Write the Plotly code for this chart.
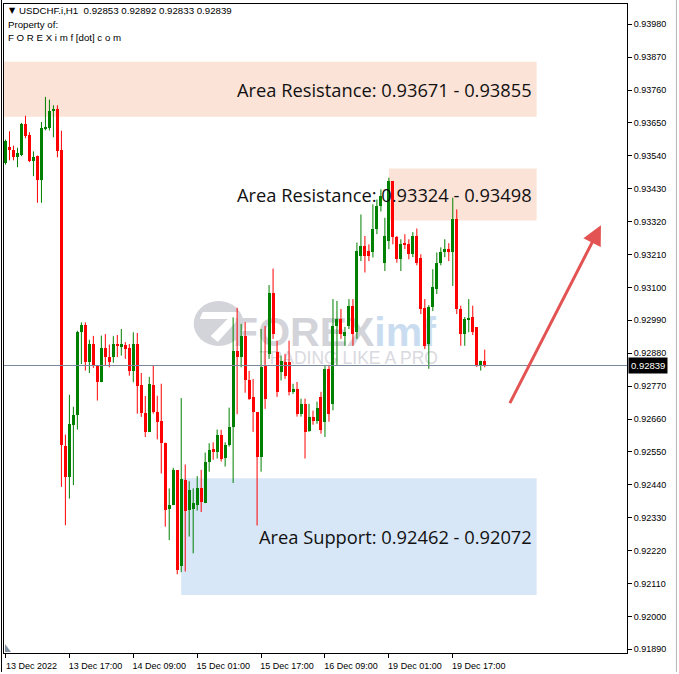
import plotly.graph_objects as go

# ---------------- data ----------------
symbol_header = "USDCHF.i,H1  0.92853 0.92892 0.92833 0.92839"
tick_index = [0, 16, 32, 48, 64, 80, 96, 112]
tick_text = ["13 Dec 2022", "13 Dec 17:00", "14 Dec 09:00", "15 Dec 01:00",
             "15 Dec 17:00", "16 Dec 09:00", "19 Dec 01:00", "19 Dec 17:00"]
price_ticks = [0.91890, 0.92000, 0.92110, 0.92220, 0.92330, 0.92440, 0.92550,
               0.92660, 0.92770, 0.92880, 0.92990, 0.93100, 0.93210, 0.93320,
               0.93430, 0.93540, 0.93650, 0.93760, 0.93870, 0.93980]

opens = [0.93517, 0.93570, 0.93561, 0.93535, 0.93544, 0.93648, 0.93611, 0.93522, 0.93541, 0.93459,
         0.93630, 0.93633, 0.93689, 0.93698, 0.93558, 0.92570, 0.92467, 0.92641, 0.92672, 0.92950,
         0.92974, 0.92852, 0.92911, 0.92841, 0.92783, 0.92897, 0.92869, 0.92867, 0.92911, 0.92900,
         0.92908, 0.92897, 0.92822, 0.92911, 0.92774, 0.92681, 0.92617, 0.92774, 0.92685, 0.92655,
         0.92581, 0.92359, 0.92372, 0.92489, 0.92167, 0.92455, 0.92355, 0.92359, 0.92374, 0.92428,
         0.92379, 0.92517, 0.92559, 0.92550, 0.92605, 0.92530, 0.92573, 0.92633, 0.92889, 0.92867,
         0.92938, 0.92791, 0.92733, 0.92683, 0.92533, 0.92838, 0.92878, 0.93083, 0.92884, 0.92817,
         0.92851, 0.92852, 0.92752, 0.92761, 0.92678, 0.92711, 0.92619, 0.92668, 0.92655, 0.92734,
         0.92650, 0.92828, 0.92711, 0.92972, 0.92994, 0.92937, 0.92972, 0.93039, 0.92950, 0.93205,
         0.93239, 0.93222, 0.93217, 0.93294, 0.93372, 0.93183, 0.93255, 0.93455, 0.93267, 0.93194,
         0.93248, 0.93244, 0.93211, 0.93272, 0.93200, 0.93030, 0.92911, 0.93033, 0.93094, 0.93183,
         0.93217, 0.93228, 0.93217, 0.93328, 0.93028, 0.92944, 0.92992, 0.93000, 0.92967, 0.92839,
         0.92853]
highs = [0.93594, 0.93622, 0.93574, 0.93567, 0.93650, 0.93674, 0.93619, 0.93555, 0.93541, 0.93653,
         0.93737, 0.93728, 0.93709, 0.93709, 0.93624, 0.92608, 0.92741, 0.92701, 0.92955, 0.92983,
         0.92983, 0.92925, 0.92938, 0.92841, 0.92939, 0.92944, 0.92909, 0.92937, 0.92941, 0.92961,
         0.92917, 0.92911, 0.92950, 0.92948, 0.92814, 0.92737, 0.92801, 0.92839, 0.92738, 0.92778,
         0.92581, 0.92428, 0.92497, 0.92489, 0.92730, 0.92508, 0.92452, 0.92428, 0.92469, 0.92490,
         0.92548, 0.92579, 0.92582, 0.92625, 0.92624, 0.92582, 0.92698, 0.93000, 0.93032, 0.92978,
         0.92984, 0.92821, 0.92794, 0.92683, 0.92961, 0.92971, 0.93108, 0.93163, 0.92922, 0.92872,
         0.92878, 0.92922, 0.92778, 0.92784, 0.92728, 0.92728, 0.92711, 0.92688, 0.92718, 0.92751,
         0.92841, 0.92841, 0.93061, 0.93055, 0.93028, 0.92968, 0.93061, 0.93061, 0.93250, 0.93344,
         0.93272, 0.93244, 0.93378, 0.93394, 0.93428, 0.93333, 0.93467, 0.93455, 0.93272, 0.93261,
         0.93278, 0.93261, 0.93285, 0.93297, 0.93211, 0.93061, 0.93041, 0.93161, 0.93217, 0.93234,
         0.93261, 0.93248, 0.93400, 0.93361, 0.93039, 0.93001, 0.93061, 0.93039, 0.92967, 0.92855,
         0.92892]
lows = [0.93511, 0.93525, 0.93525, 0.93502, 0.93539, 0.93599, 0.93519, 0.93472, 0.93383, 0.93383,
        0.93625, 0.93625, 0.93602, 0.93535, 0.92433, 0.92305, 0.92394, 0.92439, 0.92625, 0.92844,
        0.92822, 0.92814, 0.92831, 0.92722, 0.92783, 0.92839, 0.92833, 0.92848, 0.92867, 0.92872,
        0.92861, 0.92805, 0.92783, 0.92678, 0.92667, 0.92600, 0.92617, 0.92678, 0.92592, 0.92478,
        0.92300, 0.92255, 0.92372, 0.92141, 0.92148, 0.92150, 0.92267, 0.92211, 0.92354, 0.92349,
        0.92379, 0.92484, 0.92524, 0.92528, 0.92518, 0.92501, 0.92568, 0.92446, 0.92676, 0.92833,
        0.92748, 0.92724, 0.92617, 0.92304, 0.92484, 0.92694, 0.92861, 0.92928, 0.92734, 0.92789,
        0.92794, 0.92739, 0.92744, 0.92668, 0.92668, 0.92528, 0.92617, 0.92641, 0.92644, 0.92611,
        0.92600, 0.92651, 0.92689, 0.92839, 0.92928, 0.92905, 0.92961, 0.92905, 0.92928, 0.93188,
        0.93150, 0.93188, 0.93200, 0.93278, 0.93354, 0.93155, 0.93228, 0.93244, 0.93183, 0.93155,
        0.93228, 0.93194, 0.93201, 0.93174, 0.93011, 0.92894, 0.92828, 0.93021, 0.93078, 0.93174,
        0.93201, 0.93188, 0.93105, 0.93011, 0.92905, 0.92905, 0.92950, 0.92941, 0.92834, 0.92822,
        0.92833]
closes = [0.93589, 0.93561, 0.93535, 0.93548, 0.93648, 0.93605, 0.93522, 0.93537, 0.93459, 0.93633,
          0.93637, 0.93691, 0.93698, 0.93555, 0.92572, 0.92467, 0.92644, 0.92674, 0.92952, 0.92974,
          0.92852, 0.92911, 0.92839, 0.92783, 0.92897, 0.92867, 0.92852, 0.92911, 0.92903, 0.92911,
          0.92894, 0.92822, 0.92911, 0.92772, 0.92681, 0.92617, 0.92778, 0.92683, 0.92650, 0.92581,
          0.92355, 0.92374, 0.92489, 0.92155, 0.92459, 0.92352, 0.92422, 0.92378, 0.92430, 0.92381,
          0.92518, 0.92557, 0.92550, 0.92605, 0.92528, 0.92574, 0.92633, 0.92889, 0.92867, 0.92937,
          0.92791, 0.92728, 0.92683, 0.92533, 0.92833, 0.92728, 0.93083, 0.92944, 0.92752, 0.92855,
          0.92805, 0.92752, 0.92761, 0.92678, 0.92711, 0.92617, 0.92667, 0.92655, 0.92698, 0.92622,
          0.92828, 0.92678, 0.92972, 0.92994, 0.92944, 0.92950, 0.93039, 0.92944, 0.93222, 0.93239,
          0.93205, 0.93205, 0.93294, 0.93372, 0.93405, 0.93272, 0.93455, 0.93267, 0.93194, 0.93244,
          0.93241, 0.93211, 0.93272, 0.93183, 0.93028, 0.92905, 0.93033, 0.93100, 0.93183, 0.93217,
          0.93228, 0.93217, 0.93328, 0.93028, 0.92944, 0.92994, 0.92997, 0.92950, 0.92839, 0.92855,
          0.92839]

zone_labels = ["Area Resistance: 0.93671 - 0.93855",
               "Area Resistance: 0.93324 - 0.93498",
               "Area Support: 0.92462 - 0.92072"]
zone_low = [0.93671, 0.93324, 0.92072]
zone_high = [0.93855, 0.93498, 0.92462]
zone_start = [-2, 96, 44]
zone_end = [133, 133, 133]
zone_colors = ["#FBE3D7", "#FBE3D7", "#D7E7F7"]

current_price = 0.92839
arrow_from = (126.1, 0.92708)
arrow_to = (149.1, 0.93308)

# ---------------- geometry helpers ----------------
W, H = 679, 674
ML, MR, MT, MB = 3, 52, 4, 19
PW, PH = W - ML - MR, H - MT - MB


def px(x):
    return (x - ML) / PW


def py(y):
    return (H - MB - y) / PH


UP, DOWN = "#008000", "#FF0000"
n = len(opens)
idx = list(range(n))
up_i = [i for i in idx if closes[i] >= opens[i]]
dn_i = [i for i in idx if closes[i] < opens[i]]

fig = go.Figure()


def wick_trace(ids, color):
    xs, ys = [], []
    for i in ids:
        xs += [i, i, None]
        ys += [lows[i], highs[i], None]
    return go.Scatter(x=xs, y=ys, mode="lines", line=dict(color=color, width=1),
                      hoverinfo="skip", showlegend=False)


def body_trace(ids, color):
    base = [min(opens[i], closes[i]) for i in ids]
    hgt = [max(abs(closes[i] - opens[i]), 0.00002) for i in ids]
    return go.Bar(x=ids, y=hgt, base=base, width=0.75, marker=dict(color=color, line=dict(width=0)),
                  hoverinfo="skip", showlegend=False)


fig.add_trace(wick_trace(up_i, UP))
fig.add_trace(wick_trace(dn_i, DOWN))
fig.add_trace(body_trace(up_i, UP))
fig.add_trace(body_trace(dn_i, DOWN))

shapes = []
annotations = []

# zones
for lab, lo, hi, x0, x1, col in zip(zone_labels, zone_low, zone_high, zone_start, zone_end, zone_colors):
    shapes.append(dict(type="rect", xref="x", yref="y", x0=x0, x1=x1, y0=lo, y1=hi,
                       fillcolor=col, line=dict(width=0), layer="below"))
    annotations.append(dict(xref="x", yref="y", x=x1, y=(lo + hi) / 2, xanchor="right", yanchor="middle",
                            xshift=-3, text=lab, showarrow=False,
                            font=dict(family="Open Sans", size=18.3, color="#111111")))

# watermark (below candles)
WM_GRAY = "#D3D3DA"
shapes.append(dict(type="circle", xref="paper", yref="paper", x0=px(193), x1=px(243), y0=py(347), y1=py(302),
                   fillcolor=WM_GRAY, line=dict(width=0), layer="below"))
shapes.append(dict(type="path", xref="paper", yref="paper",
                   path=f"M {px(202)},{py(313)} L {px(237)},{py(313)} L {px(237)},{py(321)} L {px(217)},{py(343)} L {px(210)},{py(337)} L {px(227)},{py(320)} L {px(199)},{py(320)} Z",
                   fillcolor="white", line=dict(width=0), layer="below"))
shapes.append(dict(type="rect", xref="paper", yref="paper", x0=px(240), x1=px(428), y0=py(348), y1=py(310),
                   line=dict(width=0), fillcolor="rgba(0,0,0,0)", layer="below",
                   label=dict(text="<b>FOREX<span style='color:#CADDF0'>imf</span></b>",
                              font=dict(family="Liberation Sans", size=41, color=WM_GRAY),
                              textposition="middle center", padding=0)))
shapes.append(dict(type="rect", xref="paper", yref="paper", x0=px(254), x1=px(442), y0=py(366), y1=py(350),
                   line=dict(width=0), fillcolor="rgba(0,0,0,0)", layer="below",
                   label=dict(text="TRADING LIKE A PRO", font=dict(family="Liberation Sans", size=17.5, color="#D9D9E0"),
                              textposition="middle center", padding=0)))

# current price line
shapes.append(dict(type="line", xref="paper", yref="y", x0=0, x1=1, y0=current_price, y1=current_price,
                   line=dict(color="#7A8A9C", width=1)))
# outer window borders
shapes.append(dict(type="line", xref="paper", yref="paper", x0=px(0.5), x1=px(0.5), y0=py(0), y1=py(674),
                   line=dict(color="#000000", width=1)))
shapes.append(dict(type="line", xref="paper", yref="paper", x0=px(676.5), x1=px(676.5), y0=py(0), y1=py(674),
                   line=dict(color="#B4B4B4", width=1)))
# small scroll marker at bottom-left
shapes.append(dict(type="path", xref="paper", yref="paper",
                   path=f"M {px(4)},{py(646)} L {px(4)},{py(654)} L {px(10)},{py(654)} Z",
                   fillcolor="#8090A0", line=dict(width=0)))

# arrow
annotations.append(dict(xref="x", yref="y", axref="x", ayref="y", x=arrow_to[0], y=arrow_to[1],
                        ax=arrow_from[0], ay=arrow_from[1], text="", showarrow=True,
                        arrowhead=2, arrowsize=1.3, arrowwidth=3, arrowcolor="#E35353"))

# current price tag
annotations.append(dict(xref="paper", yref="y", x=1, y=current_price, xanchor="left", yanchor="middle",
                        xshift=1, text=f"{current_price:.5f}", showarrow=False, bgcolor="#000000",
                        borderpad=2, font=dict(family="Liberation Sans", size=9.5, color="#FFFFFF")))

# header
HDR_FONT = dict(family="Liberation Sans", size=9.7, color="#000000")
annotations.append(dict(xref="paper", yref="paper", x=px(6), y=py(11), xanchor="left", yanchor="middle",
                        text="▼", showarrow=False, font=dict(family="DejaVu Sans", size=8, color="#000000")))
annotations.append(dict(xref="paper", yref="paper", x=px(16), y=py(11), xanchor="left", yanchor="middle",
                        text=symbol_header, showarrow=False, font=HDR_FONT))
annotations.append(dict(xref="paper", yref="paper", x=px(5), y=py(25), xanchor="left", yanchor="middle",
                        text="Property of:", showarrow=False, font=HDR_FONT))
annotations.append(dict(xref="paper", yref="paper", x=px(5), y=py(38), xanchor="left", yanchor="middle",
                        text="F O R E X i m f [dot] c o m", showarrow=False, font=HDR_FONT))

y_min = 0.918777
y_max = y_min + PH / 30000.0
x_min = -0.375
x_max = x_min + PW / 4.0

fig.update_layout(
    width=W, height=H, margin=dict(l=ML, r=MR, t=MT, b=MB),
    paper_bgcolor="white", plot_bgcolor="white", barmode="overlay", bargap=0,
    showlegend=False, shapes=shapes, annotations=annotations,
    xaxis=dict(range=[x_min, x_max], tickmode="array", tickvals=tick_index, ticktext=tick_text,
               ticks="outside", ticklen=4, tickcolor="#000000", showline=True, linecolor="#000000",
               linewidth=1, mirror=True, showgrid=False, zeroline=False, ticklabelshift=26,
               tickfont=dict(family="Liberation Sans", size=9, color="#000000")),
    yaxis=dict(range=[y_min, y_max], side="right", tickmode="array", tickvals=price_ticks,
               ticktext=[f"{v:.5f}" for v in price_ticks], ticks="outside", ticklen=4,
               tickcolor="#000000", showline=True, linecolor="#000000", linewidth=1, mirror=True,
               showgrid=False, zeroline=False,
               tickfont=dict(family="Liberation Sans", size=9, color="#000000")),
)

fig.write_html("out.html", config={"displayModeBar": False},
               post_script="document.body.style.margin='0px';document.body.style.overflow='hidden';")
